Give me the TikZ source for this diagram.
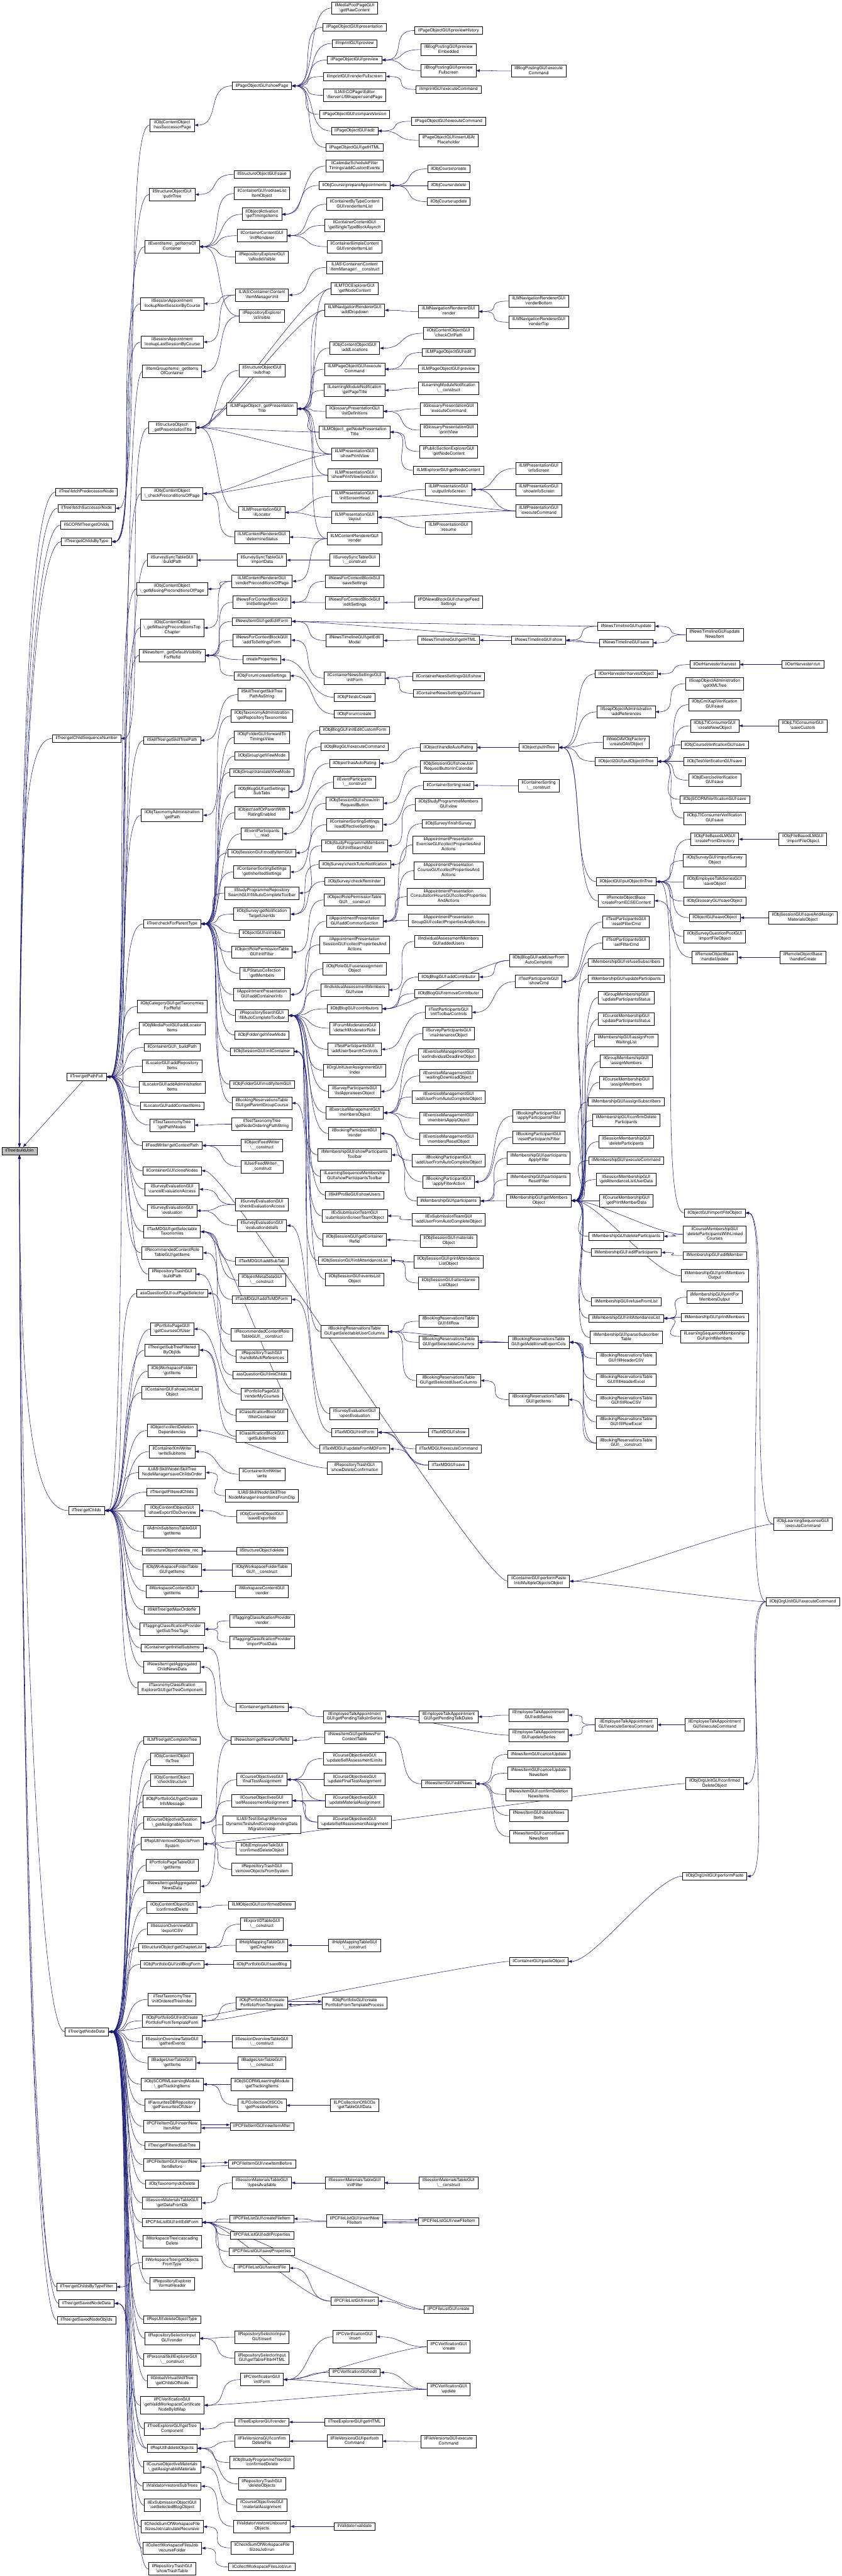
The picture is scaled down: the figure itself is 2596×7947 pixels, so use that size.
\documentclass[tikz,border=0pt]{standalone}
\usepackage{fontspec}
\setmainfont{TeX Gyre Heros}
\usetikzlibrary{arrows.meta}
\definecolor{edgeblue}{HTML}{191970}
\newcommand{\bsl}{\textbackslash}
\pgfdeclarelayer{background}
\pgfsetlayers{background,main}

\begin{document}
\begin{tikzpicture}[x=0.01cm, y=-0.01cm,
  fn/.style={draw=black, fill=white, line width=0.35pt, align=center,
    font=\fontsize{3.75}{4.35}\selectfont, inner xsep=0.105cm, inner ysep=0.0435cm,
    execute at begin node=\strut, execute at end node=\strut},
  rootfn/.style={fn, fill=gray!50},
  tip/.style={draw=edgeblue, line width=0.3pt, -{Triangle[length=0.11cm,width=0.08cm]}},
  call/.style={tip, to path={(\tikztostart.west) .. controls +(-80,0) and +(80,0) .. (\tikztotarget.east)}},
  rootup/.style={tip, to path={(\tikztostart.west) .. controls +(-90,0) and +(0,-900) .. (\tikztotarget.north)}},
  rootdown/.style={tip, to path={(\tikztostart.west) .. controls +(-90,0) and +(0,900) .. (\tikztotarget.south)}}]

\useasboundingbox (0,0) rectangle (2596,7947);

% Radice
\node[rootfn] (buildJoin) at (60,3551) {ilTree\bsl buildJoin};

% Colonna 1
\node[fn] (fetchPred) at (267,1518) {ilTree\bsl fetchPredecessorNode};
\node[fn] (fetchSucc) at (267,1568) {ilTree\bsl fetchSuccessorNode};
\node[fn] (scormChilds) at (267,1620) {ilSCORMTree\bsl getChilds};
\node[fn] (childsByType) at (267,1671) {ilTree\bsl getChildsByType};
\node[fn] (childSeqNr) at (267,2278) {ilTree\bsl getChildSequenceNumber};
\node[fn] (pathFull) at (267,3322) {ilTree\bsl getPathFull};
\node[fn] (getChilds) at (267,4660) {ilTree\bsl getChilds};
\node[fn] (nodeData) at (267,6268) {ilTree\bsl getNodeData};
\node[fn] (childsByTypeFilter) at (267,7055) {ilTree\bsl getChildsByTypeFilter};
\node[fn] (savedNodeData) at (267,7106) {ilTree\bsl getSavedNodeData};
\node[fn] (savedNodeObjIds) at (267,7158) {ilTree\bsl getSavedNodeObjIds};

% Colonna 2
\node[fn] (hasSucc) at (531,386) {ilObjContentObject\\\bsl hasSuccessorPage};
\node[fn] (soPutInTree) at (531,600) {ilStructureObjectGUI\\\bsl putInTree};
\node[fn] (eiItemsOfCont) at (531,761) {ilEventItems\bsl\_getItemsOf\\Container};
\node[fn] (lookupNext) at (531,937) {ilSessionAppointment\\\bsl lookupNextSessionByCourse};
\node[fn] (lookupLast) at (531,1055) {ilSessionAppointment\\\bsl lookupLastSessionByCourse};
\node[fn] (igItemsOfCont) at (531,1146) {ilItemGroupItems\bsl\_getItems\\OfContainer};
\node[fn] (soPresTitle) at (531,1319) {ilStructureObject\bsl\\\_getPresentationTitle};
\node[fn] (checkPrecond) at (531,1523) {ilObjContentObject\\\bsl\_checkPreconditionsOfPage};
\node[fn] (ssBuildPath) at (531,1728) {ilSurveySyncTableGUI\\\bsl buildPath};
\node[fn] (missPrecondPage) at (531,1817) {ilObjContentObject\\\bsl\_getMissingPreconditionsOfPage};
\node[fn] (missPrecondTop) at (531,1937) {ilObjContentObject\\\bsl\_getMissingPreconditionsTop\\Chapter};
\node[fn] (defVisibility) at (531,2022) {ilNewsItem\bsl\_getDefaultVisibility\\ForRefId};
\node[fn] (skillTreePath) at (531,2284) {ilSkillTree\bsl getSkillTreePath};
\node[fn] (taxAdminPath) at (531,2515) {ilObjTaxonomyAdministration\\\bsl getPath};
\node[fn] (checkParentType) at (531,2850) {ilTree\bsl checkForParentType};
\node[fn] (taxForRefId) at (531,3105) {ilObjCategoryGUI\bsl getTaxonomies\\ForRefId};
\node[fn] (mpLocatorItems) at (531,3172) {ilObjMediaPoolGUI\bsl addLocator\\Items};
\node[fn] (contBuildPath) at (531,3231) {ilContainerGUI\bsl\_buildPath};
\node[fn] (locRepItems) at (531,3289) {ilLocatorGUI\bsl addRepository\\Items};
\node[fn] (locAdminItems) at (531,3354) {ilLocatorGUI\bsl addAdministration\\Items};
\node[fn] (locContextItems) at (531,3412) {ilLocatorGUI\bsl addContextItems};
\node[fn] (ttPathNodes) at (531,3471) {ilTestTaxonomyTree\\\bsl getPathNodes};
\node[fn] (feedContextPath) at (531,3534) {ilFeedWriter\bsl getContextPath};
\node[fn] (cloneNodes) at (531,3612) {ilContainerGUI\bsl cloneNodes};
\node[fn] (cancelEvalAccess) at (531,3669) {ilSurveyEvaluationGUI\\\bsl cancelEvaluationAccess};
\node[fn] (evaluation) at (531,3735) {ilSurveyEvaluationGUI\\\bsl evaluation};
\node[fn] (selTaxonomies) at (531,3800) {ilTaxMDGUI\bsl getSelectable\\Taxonomies};
\node[fn] (rcGetItems) at (531,3865) {ilRecommendedContentRole\\TableGUI\bsl getItems};
\node[fn] (trashBuildPath) at (531,3931) {ilRepositoryTrashGUI\\\bsl buildPath};
\node[fn] (outPageSel) at (531,3990) {assQuestionGUI\bsl outPageSelector};
\node[fn] (coursesOfUser) at (531,4100) {ilPortfolioPageGUI\\\bsl getCoursesOfUser};
\node[fn] (subTreeFiltered) at (531,4165) {ilTree\bsl getSubTreeFiltered\\ByObjIds};
\node[fn] (wsGotItems) at (531,4230) {ilObjWorkspaceFolder\\\bsl gotItems};
\node[fn] (linkListObj) at (531,4296) {ilContainerGUI\bsl showLinkList\\Object};
\node[fn] (collectDelDeps) at (531,4413) {ilObject\bsl collectDeletion\\Dependencies};
\node[fn] (writeSubitems) at (531,4478) {ilContainerXmlWriter\\\bsl writeSubitems};
\node[fn] (saveChildsOrder) at (531,4543) {ILIAS\bsl Skill\bsl Node\bsl SkillTree\\NodeManager\bsl saveChildsOrder};
\node[fn] (filteredChilds) at (531,4603) {ilTree\bsl getFilteredChilds};
\node[fn] (exportIdsOverview) at (531,4660) {ilObjContentObjectGUI\\\bsl showExportIDsOverview};
\node[fn] (adminSubItems) at (531,4725) {ilAdminSubItemsTableGUI\\\bsl getItems};
\node[fn] (deleteRec) at (531,4785) {ilStructureObject\bsl delete\_rec};
\node[fn] (wfTableItems) at (531,4843) {ilObjWorkspaceFolderTable\\GUI\bsl getItems};
\node[fn] (wcGetItems) at (531,4909) {ilWorkspaceContentGUI\\\bsl getItems};
\node[fn] (maxOrderNr) at (531,4967) {ilSkillTree\bsl getMaxOrderNr};
\node[fn] (subTreeTags) at (531,5026) {ilTaggingClassificationProvider\\\bsl getSubTreeTags};
\node[fn] (initialSubitems) at (531,5084) {ilContainer\bsl getInitialSubitems};
\node[fn] (aggChildNews) at (531,5143) {ilNewsItem\bsl getAggregated\\ChildNewsData};
\node[fn] (taxTreeComp) at (531,5208) {ilTaxonomyClassification\\ExplorerGUI\bsl getTreeComponent};
\node[fn] (completeTree) at (531,5369) {ilLMTree\bsl getCompleteTree};
\node[fn] (fixTree) at (531,5427) {ilObjContentObject\\\bsl fixTree};
\node[fn] (checkStructure) at (531,5492) {ilObjContentObject\\\bsl checkStructure};
\node[fn] (createInfoMsg) at (531,5558) {ilObjPortfolioGUI\bsl getCreate\\InfoMessage};
\node[fn] (assignableTests) at (531,5623) {ilCourseObjectiveQuestion\\\bsl\_getAssignableTests};
\node[fn] (removeFromSystem) at (531,5688) {ilRepUtil\bsl removeObjectsFrom\\System};
\node[fn] (ppTableItems) at (531,5754) {ilPortfolioPageTableGUI\\\bsl getItems};
\node[fn] (aggNewsData) at (531,5819) {ilNewsItem\bsl getAggregated\\NewsData};
\node[fn] (cocConfirmedDelete) at (531,5884) {ilObjContentObjectGUI\\\bsl confirmedDelete};
\node[fn] (exportCSV) at (531,5950) {ilSessionOverviewGUI\\\bsl exportCSV};
\node[fn] (chapterList) at (531,6008) {ilStructureObject\bsl getChapterList};
\node[fn] (initBlogForm) at (531,6060) {ilObjPortfolioGUI\bsl initBlogForm};
\node[fn] (orderedTreeIdx) at (531,6168) {ilTestTaxonomyTree\\\bsl initOrderedTreeIndex};
\node[fn] (initCreatePft) at (531,6234) {ilObjPortfolioGUI\bsl initCreate\\PortfolioFromTemplateForm};
\node[fn] (gatherEvents) at (531,6299) {ilSessionOverviewTableGUI\\\bsl gatherEvents};
\node[fn] (badgeItems) at (531,6364) {ilBadgeUserTableGUI\\\bsl getItems};
\node[fn] (scormTrackItems) at (531,6430) {ilObjSCORMLearningModule\\\bsl\_getTrackingItems};
\node[fn] (favouritesOfUser) at (531,6495) {ilFavouritesDBRepository\\\bsl getFavouritesOfUser};
\node[fn] (insertItemAfter) at (531,6560) {ilPCFileItemGUI\bsl insertNew\\ItemAfter};
\node[fn] (filteredSubTree) at (531,6619) {ilTree\bsl getFilteredSubTree};
\node[fn] (insertItemBefore) at (531,6678) {ilPCFileItemGUI\bsl insertNew\\ItemBefore};
\node[fn] (taxDoDelete) at (531,6738) {ilObjTaxonomy\bsl doDelete};
\node[fn] (dataFromDb) at (531,6796) {ilSessionMaterialsTableGUI\\\bsl getDataFromDb};
\node[fn] (initEditForm) at (531,6856) {ilPCFileListGUI\bsl initEditForm};
\node[fn] (cascadingDelete) at (531,6915) {ilWorkspaceTree\bsl cascading\\Delete};
\node[fn] (objectsFromType) at (531,6980) {ilWorkspaceTree\bsl getObjects\\FromType};
\node[fn] (formatHeader) at (531,7046) {ilRepositoryExplorer\\\bsl formatHeader};
\node[fn] (deleteObjType) at (531,7156) {ilRepUtil\bsl deleteObjectType};
\node[fn] (rsiRender) at (531,7214) {ilRepositorySelectorInput\\GUI\bsl render};
\node[fn] (pseConstruct) at (531,7280) {ilPersonalSkillExplorerGUI\\\bsl\_\_construct};
\node[fn] (childsOfNode) at (531,7346) {ilGlobalVirtualSkillTree\\\bsl getChildsOfNode};
\node[fn] (validWsCert) at (531,7420) {ilPCVerificationGUI\\\bsl getValidWorkspaceCertificate\\NodeByIdMap};
\node[fn] (treeComponent) at (531,7493) {ilTreeExplorerGUI\bsl getTree\\Component};
\node[fn] (deleteObjects) at (531,7553) {ilRepUtil\bsl deleteObjects};
\node[fn] (assignableMat) at (531,7611) {ilCourseObjectiveMaterials\\\bsl\_getAssignableMaterials};
\node[fn] (restoreSubTrees) at (531,7670) {ilValidator\bsl restoreSubTrees};
\node[fn] (selBlogObject) at (531,7729) {ilExSubmissionObjectGUI\\\bsl setSelectedBlogObject};
\node[fn] (calcRecursive) at (531,7795) {ilCheckSumOfWorkspaceFile\\SizesJob\bsl calculateRecursive};
\node[fn] (recurseFolder) at (531,7861) {ilCollectWorkspaceFilesJob\\\bsl recurseFolder};
\node[fn] (showTrashTable) at (531,7925) {ilRepositoryTrashGUI\\\bsl showTrashTable};

% Colonna 3
\node[fn] (showPage) at (808,265) {ilPageObjectGUI\bsl showPage};
\node[fn] (sogSave) at (808,538) {ilStructureObjectGUI\bsl save};
\node[fn] (redrawList) at (808,597) {ilContainerGUI\bsl redrawList\\ItemObject};
\node[fn] (timingsItems) at (808,661) {ilObjectActivation\\\bsl getTimingsItems};
\node[fn] (initRenderer) at (808,727) {ilContainerContentGUI\\\bsl initRenderer};
\node[fn] (isNodeVisible) at (808,793) {ilRepositoryExplorerGUI\\\bsl isNodeVisible};
\node[fn] (imInit) at (808,910) {ILIAS\bsl Container\bsl Content\\\bsl ItemManager\bsl init};
\node[fn] (reIsVisible) at (808,975) {ilRepositoryExplorer\\\bsl isVisible};
\node[fn] (subchap) at (808,1143) {ilStructureObjectGUI\\\bsl subchap};
\node[fn] (lmpoPresTitle) at (808,1261) {ilLMPageObject\bsl\_getPresentation\\Title};
\node[fn] (ilLocator) at (808,1581) {ilLMPresentationGUI\\\bsl ilLocator};
\node[fn] (determineStatus) at (808,1657) {ilLMContentRendererGUI\\\bsl determineStatus};
\node[fn] (ssImportData) at (808,1728) {ilSurveySyncTableGUI\\\bsl importData};
\node[fn] (renderPrecond) at (808,1793) {ilLMContentRendererGUI\\\bsl renderPreconditionsOfPage};
\node[fn] (nfcInitSettings) at (808,1858) {ilNewsForContextBlockGUI\\\bsl initSettingsForm};
\node[fn] (getEditForm) at (808,1917) {ilNewsItemGUI\bsl getEditForm};
\node[fn] (addToSettings) at (808,1975) {ilNewsForContextBlockGUI\\\bsl addToSettingsForm};
\node[fn] (createProps) at (808,2035) {createProperties};
\node[fn] (forumCreateSettings) at (808,2085) {ilObjForum\bsl createSettings};
\node[fn] (skillPathString) at (808,2143) {ilSkillTree\bsl getSkillTree\\PathAsString};
\node[fn] (repoTaxonomies) at (808,2209) {ilObjTaxonomyAdministration\\\bsl getRepositoryTaxonomies};
\node[fn] (forwardTimings) at (808,2274) {ilObjFolderGUI\bsl forwardTo\\TimingsView};
\node[fn] (grpViewMode) at (808,2332) {ilObjGroup\bsl getViewMode};
\node[fn] (grpTranslateVM) at (808,2383) {ilObjGroup\bsl translateViewMode};
\node[fn] (blogSubTabs) at (808,2442) {ilObjBlogGUI\bsl setSettings\\SubTabs};
\node[fn] (ratingEnabled) at (808,2507) {ilObject\bsl selfOrParentWith\\RatingEnabled};
\node[fn] (epRead) at (808,2572) {ilEventParticipants\\\bsl\_\_read};
\node[fn] (sessModifyItem) at (808,2631) {ilObjSessionGUI\bsl modifyItemGUI};
\node[fn] (inheritedSettings) at (808,2690) {ilContainerSortingSettings\\\bsl getInheritedSettings};
\node[fn] (spAutoComplete) at (808,2755) {ilStudyProgrammeRepository\\SearchGUI\bsl fillAutoCompleteToolbar};
\node[fn] (notifTargets) at (808,2820) {ilObjSurvey\bsl getNotification\\TargetUserIds};
\node[fn] (objIsVisible) at (808,2880) {ilObjectGUI\bsl isVisible};
\node[fn] (rptInitFilter) at (808,2937) {ilObjectRolePermissionTable\\GUI\bsl initFilter};
\node[fn] (lpGetMembers) at (808,3003) {ilLPStatusCollection\\\bsl getMembers};
\node[fn] (addContainerInfo) at (808,3068) {ilAppointmentPresentation\\GUI\bsl addContainerInfo};
\node[fn] (repoAutoComplete) at (808,3133) {ilRepositorySearchGUI\\\bsl fillAutoCompleteToolbar};
\node[fn] (folderViewMode) at (808,3193) {ilObjFolder\bsl getViewMode};
\node[fn] (sessInitContainer) at (808,3244) {ilObjSessionGUI\bsl initContainer};
\node[fn] (folderModifyItem) at (808,3345) {ilObjFolderGUI\bsl modifyItemGUI};
\node[fn] (parentGroupCourse) at (808,3403) {ilBookingReservationsTable\\GUI\bsl getParentGroupCourse};
\node[fn] (nodeOrderingPath) at (808,3468) {ilTestTaxonomyTree\\\bsl getNodeOrderingPathString};
\node[fn] (objFeedConstruct) at (808,3534) {ilObjectFeedWriter\\\bsl\_\_construct};
\node[fn] (userFeedConstruct) at (808,3599) {ilUserFeedWriter\bsl\_\\\_construct};
\node[fn] (checkEvalAccess) at (808,3716) {ilSurveyEvaluationGUI\\\bsl checkEvaluationAccess};
\node[fn] (evalDetails) at (808,3781) {ilSurveyEvaluationGUI\\\bsl evaluationdetails};
\node[fn] (taxAddSubTab) at (808,3891) {ilTaxMDGUI\bsl addSubTab};
\node[fn] (mdConstruct) at (808,3949) {ilObjectMetaDataGUI\\\bsl\_\_construct};
\node[fn] (addToMDForm) at (808,4009) {ilTaxMDGUI\bsl addToMDForm};
\node[fn] (rcConstruct) at (808,4117) {ilRecommendedContentRole\\TableGUI\bsl\_\_construct};
\node[fn] (multiRefs) at (808,4184) {ilRepositoryTrashGUI\\\bsl handleMultiReferences};
\node[fn] (linkChilds) at (808,4242) {assQuestionGUI\bsl linkChilds};
\node[fn] (renderMyCourses) at (808,4301) {ilPortfolioPageGUI\\\bsl renderMyCourses};
\node[fn] (filterContainer) at (808,4366) {ilClassificationBlockGUI\\\bsl filterContainer};
\node[fn] (subItemIds) at (808,4431) {ilClassificationBlockGUI\\\bsl getSubItemIds};
\node[fn] (xmlWrite) at (808,4548) {ilContainerXmlWriter\\\bsl write};
\node[fn] (itemsFromClip) at (808,4614) {ILIAS\bsl Skill\bsl Node\bsl SkillTree\\NodeManager\bsl insertItemsFromClip};
\node[fn] (saveExportIds) at (808,4679) {ilObjContentObjectGUI\\\bsl saveExportIds};
\node[fn] (soDelete) at (808,4785) {ilStructureObject\bsl delete};
\node[fn] (wfTableConstruct) at (808,4843) {ilObjWorkspaceFolderTable\\GUI\bsl\_\_construct};
\node[fn] (wcRender) at (808,4909) {ilWorkspaceContentGUI\\\bsl render};
\node[fn] (tcRender) at (808,5000) {ilTaggingClassificationProvider\\\bsl render};
\node[fn] (tcImportPost) at (808,5066) {ilTaggingClassificationProvider\\\bsl importPostData};
\node[fn] (contSubItems) at (808,5267) {ilContainer\bsl getSubItems};
\node[fn] (newsForRefId) at (808,5369) {ilNewsItem\bsl getNewsForRefId};
\node[fn] (finalTestAssign) at (808,5490) {ilCourseObjectivesGUI\\\bsl finalTestAssignment};
\node[fn] (selfAssessAssign) at (808,5555) {ilCourseObjectivesGUI\\\bsl selfAssessmentAssignment};
\node[fn] (migrationStep) at (808,5629) {ILIAS\bsl Test\bsl Setup\bsl ilRemove\\DynamicTestsAndCorrespondingData\\Migration\bsl step};
\node[fn] (etConfirmedDelete) at (808,5702) {ilObjEmployeeTalkGUI\\\bsl confirmedDeleteObject};
\node[fn] (trashRemoveFromSys) at (808,5767) {ilRepositoryTrashGUI\\\bsl removeObjectsFromSystem};
\node[fn] (lmoConfirmedDelete) at (808,5877) {ilLMObjectGUI\bsl confirmedDelete};
\node[fn] (exportIdConstruct) at (808,5936) {ilExportIDTableGUI\\\bsl\_\_construct};
\node[fn] (helpGetChapters) at (808,6001) {ilHelpMappingTableGUI\\\bsl getChapters};
\node[fn] (saveBlog) at (808,6060) {ilObjPortfolioGUI\bsl saveBlog};
\node[fn] (createPft) at (808,6179) {ilObjPortfolioGUI\bsl create\\PortfolioFromTemplate};
\node[fn] (sotConstruct) at (808,6299) {ilSessionOverviewTableGUI\\\bsl\_\_construct};
\node[fn] (badgeConstruct) at (808,6364) {ilBadgeUserTableGUI\\\bsl\_\_construct};
\node[fn] (scormGetTrack) at (808,6430) {ilObjSCORMLearningModule\\\bsl getTrackingItems};
\node[fn] (possibleItems) at (808,6495) {ilLPCollectionOfSCOs\\\bsl getPossibleItems};
\node[fn] (newItemAfter) at (808,6560) {ilPCFileItemGUI\bsl newItemAfter};
\node[fn] (newItemBefore) at (808,6676) {ilPCFileItemGUI\bsl newItemBefore};
\node[fn] (typesAvailable) at (808,6734) {ilSessionMaterialsTableGUI\\\bsl typesAvailable};
\node[fn] (createFileItem) at (808,6845) {ilPCFileListGUI\bsl createFileItem};
\node[fn] (editProperties) at (808,6896) {ilPCFileListGUI\bsl editProperties};
\node[fn] (saveProperties) at (808,6946) {ilPCFileListGUI\bsl saveProperties};
\node[fn] (selectFile) at (808,6997) {ilPCFileListGUI\bsl selectFile};
\node[fn] (rsiInsert) at (808,7210) {ilRepositorySelectorInput\\GUI\bsl insert};
\node[fn] (rsiFilterHTML) at (808,7275) {ilRepositorySelectorInput\\GUI\bsl getTableFilterHTML};
\node[fn] (pcvInitForm) at (808,7341) {ilPCVerificationGUI\\\bsl initForm};
\node[fn] (treeExpRender) at (808,7472) {ilTreeExplorerGUI\bsl render};
\node[fn] (confirmDelFile) at (808,7531) {ilFileVersionsGUI\bsl confirm\\DeleteFile};
\node[fn] (sptConfirmedDelete) at (808,7597) {ilObjStudyProgrammeTreeGUI\\\bsl confirmedDelete};
\node[fn] (trashDeleteObjs) at (808,7663) {ilRepositoryTrashGUI\\\bsl deleteObjects};
\node[fn] (materialAssign) at (808,7728) {ilCourseObjectivesGUI\\\bsl materialAssignment};
\node[fn] (restoreUnbound) at (808,7794) {ilValidator\bsl restoreUnbound\\Objects};
\node[fn] (checkSumRun) at (808,7860) {ilCheckSumOfWorkspaceFile\\SizesJob\bsl run};
\node[fn] (collectRun) at (808,7919) {ilCollectWorkspaceFilesJob\bsl run};

% Colonna 4
\node[fn] (rawContent) at (1094,25) {ilMediaPoolPageGUI\\\bsl getRawContent};
\node[fn] (pogPresentation) at (1094,84) {ilPageObjectGUI\bsl presentation};
\node[fn] (imprintPreview) at (1094,134) {ilImprintGUI\bsl preview};
\node[fn] (pogPreview) at (1094,185) {ilPageObjectGUI\bsl preview};
\node[fn] (imprintFullscreen) at (1094,236) {ilImprintGUI\bsl renderFullscreen};
\node[fn] (sendPage) at (1094,294) {ILIAS\bsl COPage\bsl Editor\\\bsl Server\bsl UIWrapper\bsl sendPage};
\node[fn] (compareVersion) at (1094,353) {ilPageObjectGUI\bsl compareVersion};
\node[fn] (pogEdit) at (1094,404) {ilPageObjectGUI\bsl edit};
\node[fn] (pogGetHTML) at (1094,455) {ilPageObjectGUI\bsl getHTML};
\node[fn] (addCustomEvents) at (1094,512) {ilCalendarScheduleFilter\\Timings\bsl addCustomEvents};
\node[fn] (prepareAppts) at (1094,572) {ilObjCourse\bsl prepareAppointments};
\node[fn] (btRenderList) at (1094,630) {ilContainerByTypeContent\\GUI\bsl renderItemList};
\node[fn] (singleTypeBlock) at (1094,695) {ilContainerContentGUI\\\bsl getSingleTypeBlockAsynch};
\node[fn] (scRenderList) at (1094,761) {ilContainerSimpleContent\\GUI\bsl renderItemList};
\node[fn] (imConstruct) at (1094,825) {ILIAS\bsl Container\bsl Content\\\bsl ItemManager\bsl\_\_construct};
\node[fn] (tocNodeContent) at (1094,890) {ilLMTOCExplorerGUI\\\bsl getNodeContent};
\node[fn] (addDropdown) at (1094,957) {ilLMNavigationRendererGUI\\\bsl addDropdown};
\node[fn] (addLocations) at (1094,1074) {ilObjContentObjectGUI\\\bsl addLocations};
\node[fn] (lmpogExecute) at (1094,1139) {ilLMPageObjectGUI\bsl execute\\Command};
\node[fn] (getPageTitle) at (1094,1204) {ilLearningModuleNotification\\\bsl getPageTitle};
\node[fn] (listDefinitions) at (1094,1269) {ilGlossaryPresentationGUI\\\bsl listDefinitions};
\node[fn] (nodePresTitle) at (1094,1333) {ilLMObject\bsl\_getNodePresentation\\Title};
\node[fn] (showPrintView) at (1094,1401) {ilLMPresentationGUI\\\bsl showPrintView};
\node[fn] (printViewSel) at (1094,1466) {ilLMPresentationGUI\\\bsl showPrintViewSelection};
\node[fn] (initScreenHead) at (1094,1531) {ilLMPresentationGUI\\\bsl initScreenHead};
\node[fn] (lmpLayout) at (1094,1596) {ilLMPresentationGUI\\\bsl layout};
\node[fn] (lmcrRender) at (1094,1662) {ilLMContentRendererGUI\\\bsl render};
\node[fn] (ssConstruct) at (1094,1728) {ilSurveySyncTableGUI\\\bsl\_\_construct};
\node[fn] (nfcSaveSettings) at (1094,1793) {ilNewsForContextBlockGUI\\\bsl saveSettings};
\node[fn] (nfcEditSettings) at (1094,1859) {ilNewsForContextBlockGUI\\\bsl editSettings};
\node[fn] (editModal) at (1094,1976) {ilNewsTimelineGUI\bsl getEdit\\Modal};
\node[fn] (cnsInitForm) at (1094,2092) {ilContainerNewsSettingsGUI\\\bsl initForm};
\node[fn] (fileDoCreate) at (1094,2151) {ilObjFile\bsl doCreate};
\node[fn] (forumCreate) at (1094,2203) {ilObjForum\bsl create};
\node[fn] (blogCustomForm) at (1094,2253) {ilObjBlogGUI\bsl initEditCustomForm};
\node[fn] (blogExecute) at (1094,2304) {ilObjBlogGUI\bsl executeCommand};
\node[fn] (hasAutoRating) at (1094,2355) {ilObject\bsl hasAutoRating};
\node[fn] (epConstruct) at (1094,2413) {ilEventParticipants\\\bsl\_\_construct};
\node[fn] (joinRequestBtn) at (1094,2478) {ilObjSessionGUI\bsl showJoin\\RequestButton};
\node[fn] (loadEffSettings) at (1094,2544) {ilContainerSortingSettings\\\bsl loadEffectiveSettings};
\node[fn] (spmInitSearch) at (1094,2609) {ilObjStudyProgrammeMembers\\GUI\bsl initSearchGUI};
\node[fn] (tutorNotif) at (1094,2667) {ilObjSurvey\bsl checkTutorNotification};
\node[fn] (checkReminder) at (1094,2719) {ilObjSurvey\bsl checkReminder};
\node[fn] (rptConstruct) at (1094,2776) {ilObjectRolePermissionTable\\GUI\bsl\_\_construct};
\node[fn] (addCommonSection) at (1094,2842) {ilAppointmentPresentation\\GUI\bsl addCommonSection};
\node[fn] (apSessionProps) at (1094,2915) {ilAppointmentPresentation\\SessionGUI\bsl collectPropertiesAnd\\Actions};
\node[fn] (userAssignObj) at (1094,2989) {ilObjRoleGUI\bsl userassignment\\Object};
\node[fn] (iamView) at (1094,3054) {ilIndividualAssessmentMembers\\GUI\bsl view};
\node[fn] (blogContributors) at (1094,3112) {ilObjBlogGUI\bsl contributors};
\node[fn] (detachModerator) at (1094,3172) {ilForumModeratorsGUI\\\bsl detachModeratorRole};
\node[fn] (userSearchCtrls) at (1094,3237) {ilTestParticipantsGUI\\\bsl addUserSearchControls};
\node[fn] (ouIndex) at (1094,3302) {ilOrgUnitUserAssignmentGUI\\\bsl index};
\node[fn] (appraiseesObj) at (1094,3367) {ilSurveyParticipantsGUI\\\bsl listAppraiseesObject};
\node[fn] (membersObj) at (1094,3433) {ilExerciseManagementGUI\\\bsl membersObject};
\node[fn] (bpRender) at (1094,3497) {ilBookingParticipantGUI\\\bsl render};
\node[fn] (partToolbar) at (1094,3563) {ilMembershipGUI\bsl showParticipants\\Toolbar};
\node[fn] (lsPartToolbar) at (1094,3629) {ilLearningSequenceMembership\\GUI\bsl showParticipantsToolbar};
\node[fn] (showUsers) at (1094,3687) {ilSkillProfileGUI\bsl showUsers};
\node[fn] (teamScreen) at (1094,3751) {ilExSubmissionTeamGUI\\\bsl submissionScreenTeamObject};
\node[fn] (sessContRefId) at (1094,3825) {ilObjSessionGUI\bsl getContainer\\RefId};
\node[fn] (sessInitAttend) at (1094,3889) {ilObjSessionGUI\bsl initAttendanceList};
\node[fn] (sessEventsList) at (1094,3947) {ilObjSessionGUI\bsl eventsList\\Object};
\node[fn] (selUserCols) at (1094,4108) {ilBookingReservationsTable\\GUI\bsl getSelectableUserColumns};
\node[fn] (openEvaluation) at (1094,4361) {ilSurveyEvaluationGUI\\\bsl openEvaluation};
\node[fn] (taxInitForm) at (1094,4419) {ilTaxMDGUI\bsl initForm};
\node[fn] (updateFromMD) at (1094,4470) {ilTaxMDGUI\bsl updateFromMDForm};
\node[fn] (showDelConfirm) at (1094,4529) {ilRepositoryTrashGUI\\\bsl showDeleteConfirmation};
\node[fn] (pendingInSeries) at (1094,5296) {ilEmployeeTalkAppointment\\GUI\bsl getPendingTalksInSeries};
\node[fn] (newsForContext) at (1094,5359) {ilNewsItemGUI\bsl getNewsFor\\ContextTable};
\node[fn] (updSelfLimits) at (1094,5425) {ilCourseObjectivesGUI\\\bsl updateSelfAssessmentLimits};
\node[fn] (updFinalTest) at (1094,5490) {ilCourseObjectivesGUI\\\bsl updateFinalTestAssignment};
\node[fn] (updMaterial) at (1094,5555) {ilCourseObjectivesGUI\\\bsl updateMaterialAssignment};
\node[fn] (updSelfAssess) at (1094,5621) {ilCourseObjectivesGUI\\\bsl updateSelfAssessmentAssignment};
\node[fn] (helpConstruct) at (1094,6001) {ilHelpMappingTableGUI\\\bsl\_\_construct};
\node[fn] (createPftProcess) at (1094,6179) {ilObjPortfolioGUI\bsl create\\PortfolioFromTemplateProcess};
\node[fn] (tableGUIData) at (1094,6495) {ilLPCollectionOfSCOs\\\bsl getTableGUIData};
\node[fn] (smInitFilter) at (1094,6734) {ilSessionMaterialsTableGUI\\\bsl initFilter};
\node[fn] (insertFileItem) at (1094,6852) {ilPCFileListGUI\bsl insertNew\\FileItem};
\node[fn] (pcflInsert) at (1094,7099) {ilPCFileListGUI\bsl insert};
\node[fn] (pcvInsert) at (1094,7209) {ilPCVerificationGUI\\\bsl insert};
\node[fn] (pcvEdit) at (1094,7319) {ilPCVerificationGUI\bsl edit};
\node[fn] (treeExpHTML) at (1094,7472) {ilTreeExplorerGUI\bsl getHTML};
\node[fn] (performCommand) at (1094,7531) {ilFileVersionsGUI\bsl perform\\Command};
\node[fn] (validate) at (1094,7794) {ilValidator\bsl validate};

% Colonna 5
\node[fn] (previewHistory) at (1384,94) {ilPageObjectGUI\bsl previewHistory};
\node[fn] (previewEmbedded) at (1384,153) {ilBlogPostingGUI\bsl preview\\Embedded};
\node[fn] (previewFullscreen) at (1384,218) {ilBlogPostingGUI\bsl preview\\Fullscreen};
\node[fn] (imprintExecute) at (1384,276) {ilImprintGUI\bsl executeCommand};
\node[fn] (pogExecute) at (1384,374) {ilPageObjectGUI\bsl executeCommand};
\node[fn] (insertJS) at (1384,433) {ilPageObjectGUI\bsl insertJSAt\\Placeholder};
\node[fn] (courseCreate) at (1384,521) {ilObjCourse\bsl create};
\node[fn] (courseDelete) at (1384,572) {ilObjCourse\bsl delete};
\node[fn] (courseUpdate) at (1384,622) {ilObjCourse\bsl update};
\node[fn] (navRender) at (1384,961) {ilLMNavigationRendererGUI\\\bsl render};
\node[fn] (checkCtrlPath) at (1384,1028) {ilObjContentObjectGUI\\\bsl checkCtrlPath};
\node[fn] (lmpogEdit) at (1384,1087) {ilLMPageObjectGUI\bsl edit};
\node[fn] (lmpogPreview) at (1384,1138) {ilLMPageObjectGUI\bsl preview};
\node[fn] (lmnConstruct) at (1384,1197) {ilLearningModuleNotification\\\bsl\_\_construct};
\node[fn] (glossExecute) at (1384,1261) {ilGlossaryPresentationGUI\\\bsl executeCommand};
\node[fn] (glossPrintView) at (1384,1327) {ilGlossaryPresentationGUI\\\bsl printView};
\node[fn] (pubNodeContent) at (1384,1393) {ilPublicSectionExplorerGUI\\\bsl getNodeContent};
\node[fn] (lmeNodeContent) at (1384,1451) {ilLMExplorerGUI\bsl getNodeContent};
\node[fn] (outputInfoScreen) at (1384,1510) {ilLMPresentationGUI\\\bsl outputInfoScreen};
\node[fn] (lmpResume) at (1384,1628) {ilLMPresentationGUI\\\bsl resume};
\node[fn] (changeFeed) at (1384,1858) {ilPDNewsBlockGUI\bsl changeFeed\\Settings};
\node[fn] (ntGetHTML) at (1384,1975) {ilNewsTimelineGUI\bsl getHTML};
\node[fn] (cnsShow) at (1384,2087) {ilContainerNewsSettingsGUI\bsl show};
\node[fn] (cnsSave) at (1384,2139) {ilContainerNewsSettingsGUI\bsl save};
\node[fn] (handleAutoRating) at (1384,2306) {ilObject\bsl handleAutoRating};
\node[fn] (joinBtnCalendar) at (1384,2365) {ilObjSessionGUI\bsl showJoin\\RequestButtonInCalendar};
\node[fn] (sortingRead) at (1384,2423) {ilContainerSorting\bsl read};
\node[fn] (spmView) at (1384,2482) {ilObjStudyProgrammeMembers\\GUI\bsl view};
\node[fn] (finishSurvey) at (1384,2541) {ilObjSurvey\bsl finishSurvey};
\node[fn] (apExerciseProps) at (1384,2606) {ilAppointmentPresentation\\ExerciseGUI\bsl collectPropertiesAnd\\Actions};
\node[fn] (apCourseProps) at (1384,2686) {ilAppointmentPresentation\\CourseGUI\bsl collectPropertiesAnd\\Actions};
\node[fn] (apConsultProps) at (1384,2766) {ilAppointmentPresentation\\ConsultationHoursGUI\bsl collectProperties\\AndActions};
\node[fn] (apGroupProps) at (1384,2839) {ilAppointmentPresentation\\GroupGUI\bsl collectPropertiesAndActions};
\node[fn] (iamAddedUsers) at (1384,2904) {ilIndividualAssessmentMembers\\GUI\bsl addedUsers};
\node[fn] (addContributor) at (1384,3014) {ilObjBlogGUI\bsl addContributor};
\node[fn] (removeContributor) at (1384,3065) {ilObjBlogGUI\bsl removeContributor};
\node[fn] (toolbarControls) at (1384,3123) {ilTestParticipantsGUI\\\bsl initToolbarControls};
\node[fn] (maintenanceObj) at (1384,3188) {ilSurveyParticipantsGUI\\\bsl maintenanceObject};
\node[fn] (deadlineObj) at (1384,3254) {ilExerciseManagementGUI\\\bsl setIndividualDeadlineObject};
\node[fn] (waitingDownload) at (1384,3319) {ilExerciseManagementGUI\\\bsl waitingDownloadObject};
\node[fn] (exAddUser) at (1384,3384) {ilExerciseManagementGUI\\\bsl addUserFromAutoCompleteObject};
\node[fn] (membersApply) at (1384,3450) {ilExerciseManagementGUI\\\bsl membersApplyObject};
\node[fn] (membersReset) at (1384,3515) {ilExerciseManagementGUI\\\bsl membersResetObject};
\node[fn] (bpAddUser) at (1384,3580) {ilBookingParticipantGUI\\\bsl addUserFromAutoCompleteObject};
\node[fn] (applyFilterAction) at (1384,3646) {ilBookingParticipantGUI\\\bsl applyFilterAction};
\node[fn] (mgParticipants) at (1384,3705) {ilMembershipGUI\bsl participants};
\node[fn] (teamAddUser) at (1384,3763) {ilExSubmissionTeamGUI\\\bsl addUserFromAutoCompleteObject};
\node[fn] (materialsObj) at (1384,3828) {ilObjSessionGUI\bsl materials\\Object};
\node[fn] (printAttendObj) at (1384,3893) {ilObjSessionGUI\bsl printAttendance\\ListObject};
\node[fn] (attendListObj) at (1384,3958) {ilObjSessionGUI\bsl attendance\\ListObject};
\node[fn] (brFillRow) at (1384,4076) {ilBookingReservationsTable\\GUI\bsl fillRow};
\node[fn] (selColumns) at (1384,4141) {ilBookingReservationsTable\\GUI\bsl getSelectableColumns};
\node[fn] (selectedUserCols) at (1384,4259) {ilBookingReservationsTable\\GUI\bsl getSelectedUserColumns};
\node[fn] (taxShow) at (1384,4419) {ilTaxMDGUI\bsl show};
\node[fn] (taxExecute) at (1384,4470) {ilTaxMDGUI\bsl executeCommand};
\node[fn] (taxSave) at (1384,4520) {ilTaxMDGUI\bsl save};
\node[fn] (pendingDates) at (1384,5296) {ilEmployeeTalkAppointment\\GUI\bsl getPendingTalkDates};
\node[fn] (editNews) at (1384,5503) {ilNewsItemGUI\bsl editNews};
\node[fn] (smConstruct) at (1384,6734) {ilSessionMaterialsTableGUI\\\bsl\_\_construct};
\node[fn] (newFileItem) at (1384,6853) {ilPCFileListGUI\bsl newFileItem};
\node[fn] (pcflCreate) at (1384,7125) {ilPCFileListGUI\bsl create};
\node[fn] (pcvCreate) at (1384,7240) {ilPCVerificationGUI\\\bsl create};
\node[fn] (pcvUpdate) at (1384,7371) {ilPCVerificationGUI\\\bsl update};
\node[fn] (fvExecute) at (1384,7532) {ilFileVersionsGUI\bsl execute\\Command};

% Colonna 6
\node[fn] (bpExecute) at (1662,219) {ilBlogPostingGUI\bsl execute\\Command};
\node[fn] (renderBottom) at (1662,929) {ilLMNavigationRendererGUI\\\bsl renderBottom};
\node[fn] (renderTop) at (1662,994) {ilLMNavigationRendererGUI\\\bsl renderTop};
\node[fn] (infoScreen) at (1662,1445) {ilLMPresentationGUI\\\bsl infoScreen};
\node[fn] (showInfoScreen) at (1662,1510) {ilLMPresentationGUI\\\bsl showInfoScreen};
\node[fn] (lmpExecute) at (1662,1576) {ilLMPresentationGUI\\\bsl executeCommand};
\node[fn] (ntShow) at (1662,1975) {ilNewsTimelineGUI\bsl show};
\node[fn] (putInTree) at (1662,2306) {ilObject\bsl putInTree};
\node[fn] (sortingConstruct) at (1662,2424) {ilContainerSorting\\\bsl\_\_construct};
\node[fn] (addUserFromAC) at (1662,2963) {ilObjBlogGUI\bsl addUserFrom\\AutoComplete};
\node[fn] (showCmd) at (1662,3028) {ilTestParticipantsGUI\\\bsl showCmd};
\node[fn] (applyPartFilter) at (1662,3443) {ilBookingParticipantGUI\\\bsl applyParticipantsFilter};
\node[fn] (resetPartFilter) at (1662,3508) {ilBookingParticipantGUI\\\bsl resetParticipantsFilter};
\node[fn] (partApplyFilter) at (1662,3573) {ilMembershipGUI\bsl participants\\ApplyFilter};
\node[fn] (partResetFilter) at (1662,3639) {ilMembershipGUI\bsl participants\\ResetFilter};
\node[fn] (getMembersObj) at (1662,3704) {ilMembershipGUI\bsl getMembers\\Object};
\node[fn] (addExportCols) at (1662,4141) {ilBookingReservationsTable\\GUI\bsl getAdditionalExportCols};
\node[fn] (brGetItems) at (1662,4318) {ilBookingReservationsTable\\GUI\bsl getItems};
\node[fn] (pasteMultiple) at (1662,4878) {ilContainerGUI\bsl performPaste\\IntoMultipleObjectsObject};
\node[fn] (editSeries) at (1662,5291) {ilEmployeeTalkAppointment\\GUI\bsl editSeries};
\node[fn] (updateSeries) at (1662,5353) {ilEmployeeTalkAppointment\\GUI\bsl updateSeries};
\node[fn] (cancelUpdate) at (1662,5412) {ilNewsItemGUI\bsl cancelUpdate};
\node[fn] (cancelUpdateNews) at (1662,5470) {ilNewsItemGUI\bsl cancelUpdate\\NewsItem};
\node[fn] (confirmDelNews) at (1662,5536) {ilNewsItemGUI\bsl confirmDeletion\\NewsItems};
\node[fn] (deleteNews) at (1662,5601) {ilNewsItemGUI\bsl deleteNews\\Items};
\node[fn] (cancelSaveNews) at (1662,5666) {ilNewsItemGUI\bsl cancelSave\\NewsItem};
\node[fn] (pasteObject) at (1662,6051) {ilContainerGUI\bsl pasteObject};

% Colonna 7
\node[fn] (ntUpdate) at (1932,1932) {ilNewsTimelineGUI\bsl update};
\node[fn] (ntSave) at (1932,1983) {ilNewsTimelineGUI\bsl save};
\node[fn] (harvestObject) at (1932,2079) {ilOerHarvester\bsl harvestObject};
\node[fn] (addReferences) at (1932,2196) {ilSoapObjectAdministration\\\bsl addReferences};
\node[fn] (davObject) at (1932,2290) {ilWebDAVObjFactory\\\bsl createDAVObject};
\node[fn] (o2PutInTree) at (1932,2349) {ilObject2GUI\bsl putObjectInTree};
\node[fn] (ogPutInTree) at (1932,2720) {ilObjectGUI\bsl putObjectInTree};
\node[fn] (ecsContent) at (1932,2779) {ilRemoteObjectBase\\\bsl createFromECSEContent};
\node[fn] (resetFilterCmd) at (1932,2844) {ilTestParticipantsGUI\\\bsl resetFilterCmd};
\node[fn] (setFilterCmd) at (1932,2909) {ilTestParticipantsGUI\\\bsl setFilterCmd};
\node[fn] (refuseSubs) at (1932,2969) {ilMembershipGUI\bsl refuseSubscribers};
\node[fn] (updateParts) at (1932,3020) {ilMembershipGUI\bsl updateParticipants};
\node[fn] (grpUpdStatus) at (1932,3077) {ilGroupMembershipGUI\\\bsl updateParticipantsStatus};
\node[fn] (crsUpdStatus) at (1932,3144) {ilCourseMembershipGUI\\\bsl updateParticipantsStatus};
\node[fn] (assignWaiting) at (1932,3209) {ilMembershipGUI\bsl assignFrom\\WaitingList};
\node[fn] (grpAssign) at (1932,3274) {ilGroupMembershipGUI\\\bsl assignMembers};
\node[fn] (crsAssign) at (1932,3339) {ilCourseMembershipGUI\\\bsl assignMembers};
\node[fn] (assignSubs) at (1932,3399) {ilMembershipGUI\bsl assignSubscribers};
\node[fn] (confirmDelParts) at (1932,3456) {ilMembershipGUI\bsl confirmDelete\\Participants};
\node[fn] (sessDelParts) at (1932,3522) {ilSessionMembershipGUI\\\bsl deleteParticipants};
\node[fn] (mgExecute) at (1932,3580) {ilMembershipGUI\bsl executeCommand};
\node[fn] (attendUserData) at (1932,3639) {ilSessionMembershipGUI\\\bsl getAttendanceListUserData};
\node[fn] (printMemberData) at (1932,3704) {ilCourseMembershipGUI\\\bsl getPrintMemberData};
\node[fn] (mgDelParts) at (1932,3814) {ilMembershipGUI\bsl deleteParticipants};
\node[fn] (mgEditParts) at (1932,3864) {ilMembershipGUI\bsl editParticipants};
\node[fn] (refuseFromList) at (1932,4016) {ilMembershipGUI\bsl refuseFromList};
\node[fn] (mgInitAttend) at (1932,4067) {ilMembershipGUI\bsl initAttendanceList};
\node[fn] (parseSubsTable) at (1932,4126) {ilMembershipGUI\bsl parseSubscriber\\Table};
\node[fn] (fillHeaderCSV) at (1932,4191) {ilBookingReservationsTable\\GUI\bsl fillHeaderCSV};
\node[fn] (fillHeaderExcel) at (1932,4257) {ilBookingReservationsTable\\GUI\bsl fillHeaderExcel};
\node[fn] (fillRowCSV) at (1932,4322) {ilBookingReservationsTable\\GUI\bsl fillRowCSV};
\node[fn] (fillRowExcel) at (1932,4387) {ilBookingReservationsTable\\GUI\bsl fillRowExcel};
\node[fn] (brConstruct) at (1932,4452) {ilBookingReservationsTable\\GUI\bsl\_\_construct};
\node[fn] (seriesCommand) at (1932,5321) {ilEmployeeTalkAppointment\\GUI\bsl executeSeriesCommand};

% Colonna 8
\node[fn] (updateNewsItem) at (2205,1958) {ilNewsTimelineGUI\bsl update\\NewsItem};
\node[fn] (harvest) at (2205,2050) {ilOerHarvester\bsl harvest};
\node[fn] (xmlTree) at (2205,2109) {ilSoapObjectAdministration\\\bsl getXMLTree};
\node[fn] (cmiSave) at (2205,2174) {ilObjCmiXapiVerification\\GUI\bsl save};
\node[fn] (ltiCreateNew) at (2205,2239) {ilObjLTIConsumerGUI\\\bsl createNewObject};
\node[fn] (crsVerSave) at (2205,2298) {ilObjCourseVerificationGUI\bsl save};
\node[fn] (tstVerSave) at (2205,2349) {ilObjTestVerificationGUI\bsl save};
\node[fn] (excVerSave) at (2205,2407) {ilObjExerciseVerification\\GUI\bsl save};
\node[fn] (scormVerSave) at (2205,2466) {ilObjSCORMVerificationGUI\bsl save};
\node[fn] (ltiVerSave) at (2205,2524) {ilObjLTIConsumerVerification\\GUI\bsl save};
\node[fn] (fromDirectory) at (2205,2589) {ilObjFileBasedLMGUI\\\bsl createFromDirectory};
\node[fn] (importSurvey) at (2205,2655) {ilObjSurveyGUI\bsl importSurvey\\Object};
\node[fn] (etsSaveObject) at (2205,2721) {ilObjEmployeeTalkSeriesGUI\\\bsl saveObject};
\node[fn] (glossSaveObject) at (2205,2780) {ilObjGlossaryGUI\bsl saveObject};
\node[fn] (ogSaveObject) at (2205,2831) {ilObjectGUI\bsl saveObject};
\node[fn] (sqpImport) at (2205,2889) {ilObjSurveyQuestionPoolGUI\\\bsl importFileObject};
\node[fn] (handleUpdate) at (2205,2954) {ilRemoteObjectBase\\\bsl handleUpdate};
\node[fn] (ogImportFile) at (2205,3742) {ilObjectGUI\bsl importFileObject};
\node[fn] (delPartsLinked) at (2205,3808) {ilCourseMembershipGUI\\\bsl deleteParticipantsWithLinked\\Courses};
\node[fn] (editMember) at (2205,3873) {ilMembershipGUI\bsl editMember};
\node[fn] (printMembersOut) at (2205,3936) {ilMembershipGUI\bsl printMembers\\Output};
\node[fn] (printForMembers) at (2205,4002) {ilMembershipGUI\bsl printFor\\MembersOutput};
\node[fn] (mgPrintMembers) at (2205,4064) {ilMembershipGUI\bsl printMembers};
\node[fn] (lsPrintMembers) at (2205,4123) {ilLearningSequenceMembership\\GUI\bsl printMembers};
\node[fn] (etaExecute) at (2205,5321) {ilEmployeeTalkAppointment\\GUI\bsl executeCommand};
\node[fn] (ouConfirmedDelete) at (2205,5502) {ilObjOrgUnitGUI\bsl confirmed\\DeleteObject};
\node[fn] (ouPerformPaste) at (2205,5788) {ilObjOrgUnitGUI\bsl performPaste};

% Colonna 9
\node[fn] (harvesterRun) at (2477,2050) {ilOerHarvester\bsl run};
\node[fn] (saveCustom) at (2477,2239) {ilObjLTIConsumerGUI\\\bsl saveCustom};
\node[fn] (fblmImport) at (2477,2589) {ilObjFileBasedLMGUI\\\bsl importFileObject};
\node[fn] (saveAndAssign) at (2477,2831) {ilObjSessionGUI\bsl saveAndAssign\\MaterialsObject};
\node[fn] (handleCreate) at (2477,2954) {ilRemoteObjectBase\\\bsl handleCreate};
\node[fn] (lsExecute) at (2477,4702) {ilObjLearningSequenceGUI\\\bsl executeCommand};
\node[fn] (ouExecute) at (2477,4941) {ilObjOrgUnitGUI\bsl executeCommand};

\begin{pgfonlayer}{background}
\fill[white] (0,0) rectangle (2596,7947);

% Archi verso la radice
\draw[rootup] (fetchPred) to (buildJoin);
\draw[rootup] (fetchSucc) to (buildJoin);
\draw[rootup] (scormChilds) to (buildJoin);
\draw[rootup] (childsByType) to (buildJoin);
\draw[rootup] (childSeqNr) to (buildJoin);
\draw[tip] (pathFull) -- (buildJoin);
\draw[rootdown] (getChilds) to (buildJoin);
\draw[rootdown] (nodeData) to (buildJoin);
\draw[rootdown] (childsByTypeFilter) to (buildJoin);
\draw[rootdown] (savedNodeData) to (buildJoin);
\draw[rootdown] (savedNodeObjIds) to (buildJoin);

% Colonna 2 -> colonna 1
\draw[call] (hasSucc) to (fetchSucc);
\draw[call] (soPutInTree) to (childsByType);
\draw[call] (eiItemsOfCont) to (childsByType);
\draw[call] (lookupNext) to (childsByType);
\draw[call] (lookupLast) to (childsByType);
\draw[call] (igItemsOfCont) to (getChilds);
\draw[call] (soPresTitle) to (childSeqNr);
\draw[call] (checkPrecond) to (pathFull);
\draw[call] (ssBuildPath) to (pathFull);
\draw[call] (missPrecondPage) to (pathFull);
\draw[call] (missPrecondTop) to (pathFull);
\draw[call] (defVisibility) to (pathFull);
\draw[call] (skillTreePath) to (pathFull);
\draw[call] (taxAdminPath) to (pathFull);
\draw[call] (checkParentType) to (pathFull);
\draw[call] (taxForRefId) to (pathFull);
\draw[call] (mpLocatorItems) to (pathFull);
\draw[call] (contBuildPath) to (pathFull);
\draw[call] (locRepItems) to (pathFull);
\draw[call] (locAdminItems) to (pathFull);
\draw[call] (locContextItems) to (pathFull);
\draw[call] (ttPathNodes) to (pathFull);
\draw[call] (feedContextPath) to (pathFull);
\draw[call] (cloneNodes) to (pathFull);
\draw[call] (cancelEvalAccess) to (pathFull);
\draw[call] (evaluation) to (pathFull);
\draw[call] (selTaxonomies) to (pathFull);
\draw[call] (rcGetItems) to (pathFull);
\draw[call] (trashBuildPath) to (pathFull);
\draw[call] (outPageSel) to (getChilds);
\draw[call] (coursesOfUser) to (getChilds);
\draw[call] (subTreeFiltered) to (getChilds);
\draw[call] (wsGotItems) to (getChilds);
\draw[call] (linkListObj) to (getChilds);
\draw[call] (collectDelDeps) to (getChilds);
\draw[call] (writeSubitems) to (getChilds);
\draw[call] (saveChildsOrder) to (getChilds);
\draw[call] (filteredChilds) to (getChilds);
\draw[call] (exportIdsOverview) to (getChilds);
\draw[call] (adminSubItems) to (getChilds);
\draw[call] (deleteRec) to (getChilds);
\draw[call] (wfTableItems) to (getChilds);
\draw[call] (wcGetItems) to (getChilds);
\draw[call] (maxOrderNr) to (getChilds);
\draw[call] (subTreeTags) to (getChilds);
\draw[call] (initialSubitems) to (getChilds);
\draw[call] (aggChildNews) to (getChilds);
\draw[call] (taxTreeComp) to (getChilds);
\draw[call] (completeTree) to (nodeData);
\draw[call] (fixTree) to (nodeData);
\draw[call] (checkStructure) to (nodeData);
\draw[call] (createInfoMsg) to (nodeData);
\draw[call] (assignableTests) to (nodeData);
\draw[call] (removeFromSystem) to (nodeData);
\draw[call] (ppTableItems) to (nodeData);
\draw[call] (aggNewsData) to (nodeData);
\draw[call] (cocConfirmedDelete) to (nodeData);
\draw[call] (exportCSV) to (nodeData);
\draw[call] (chapterList) to (nodeData);
\draw[call] (initBlogForm) to (nodeData);
\draw[call] (orderedTreeIdx) to (nodeData);
\draw[call] (initCreatePft) to (nodeData);
\draw[call] (gatherEvents) to (nodeData);
\draw[call] (badgeItems) to (nodeData);
\draw[call] (scormTrackItems) to (nodeData);
\draw[call] (favouritesOfUser) to (nodeData);
\draw[call] (insertItemAfter) to (nodeData);
\draw[call] (filteredSubTree) to (nodeData);
\draw[call] (insertItemBefore) to (nodeData);
\draw[call] (taxDoDelete) to (nodeData);
\draw[call] (dataFromDb) to (nodeData);
\draw[call] (initEditForm) to (nodeData);
\draw[call] (cascadingDelete) to (nodeData);
\draw[call] (objectsFromType) to (childsByTypeFilter);
\draw[call] (formatHeader) to (nodeData);
\draw[call] (deleteObjType) to (nodeData);
\draw[call] (rsiRender) to (nodeData);
\draw[call] (pseConstruct) to (nodeData);
\draw[call] (childsOfNode) to (nodeData);
\draw[call] (validWsCert) to (nodeData);
\draw[call] (treeComponent) to (nodeData);
\draw[call] (deleteObjects) to (nodeData);
\draw[call] (deleteObjects) to (savedNodeData);
\draw[call] (assignableMat) to (nodeData);
\draw[call] (restoreSubTrees) to (savedNodeData);
\draw[call] (selBlogObject) to (nodeData);
\draw[call] (calcRecursive) to (nodeData);
\draw[call] (recurseFolder) to (nodeData);
\draw[call] (showTrashTable) to (nodeData);

% Colonna 3 -> colonna 2
\draw[call] (showPage) to (hasSucc);
\draw[call] (sogSave) to (soPutInTree);
\draw[call] (redrawList) to (eiItemsOfCont);
\draw[call] (timingsItems) to (eiItemsOfCont);
\draw[call] (initRenderer) to (eiItemsOfCont);
\draw[call] (isNodeVisible) to (eiItemsOfCont);
\draw[call] (reIsVisible) to (eiItemsOfCont);
\draw[call] (imInit) to (lookupNext);
\draw[call] (imInit) to (lookupLast);
\draw[call] (reIsVisible) to (igItemsOfCont);
\draw[call] (subchap) to (soPresTitle);
\draw[call] (lmpoPresTitle) to (soPresTitle);
\draw[call] (ilLocator) to (soPresTitle);
\draw[call] (determineStatus) to (checkPrecond);
\draw[call] (ssImportData) to (ssBuildPath);
\draw[call] (renderPrecond) to (missPrecondPage);
\draw[call] (renderPrecond) to (missPrecondTop);
\draw[call] (nfcInitSettings) to (defVisibility);
\draw[call] (getEditForm) to (defVisibility);
\draw[call] (addToSettings) to (defVisibility);
\draw[call] (createProps) to (defVisibility);
\draw[call] (forumCreateSettings) to (defVisibility);
\draw[call] (skillPathString) to (skillTreePath);
\draw[call] (repoTaxonomies) to (taxAdminPath);
\draw[call] (forwardTimings) to (checkParentType);
\draw[call] (grpViewMode) to (checkParentType);
\draw[call] (grpTranslateVM) to (checkParentType);
\draw[call] (blogSubTabs) to (checkParentType);
\draw[call] (ratingEnabled) to (checkParentType);
\draw[call] (epRead) to (checkParentType);
\draw[call] (sessModifyItem) to (checkParentType);
\draw[call] (inheritedSettings) to (checkParentType);
\draw[call] (spAutoComplete) to (checkParentType);
\draw[call] (notifTargets) to (checkParentType);
\draw[call] (objIsVisible) to (checkParentType);
\draw[call] (rptInitFilter) to (checkParentType);
\draw[call] (lpGetMembers) to (checkParentType);
\draw[call] (addContainerInfo) to (checkParentType);
\draw[call] (repoAutoComplete) to (checkParentType);
\draw[call] (folderViewMode) to (checkParentType);
\draw[call] (sessInitContainer) to (checkParentType);
\draw[call] (folderModifyItem) to (checkParentType);
\draw[call] (parentGroupCourse) to (checkParentType);
\draw[call] (nodeOrderingPath) to (ttPathNodes);
\draw[call] (objFeedConstruct) to (feedContextPath);
\draw[call] (userFeedConstruct) to (feedContextPath);
\draw[call] (checkEvalAccess) to (cancelEvalAccess);
\draw[call] (checkEvalAccess) to (evaluation);
\draw[call] (evalDetails) to (evaluation);
\draw[call] (taxAddSubTab) to (selTaxonomies);
\draw[call] (mdConstruct) to (selTaxonomies);
\draw[call] (addToMDForm) to (selTaxonomies);
\draw[call] (rcConstruct) to (rcGetItems);
\draw[call] (multiRefs) to (trashBuildPath);
\draw[call] (linkChilds) to (outPageSel);
\draw[call] (renderMyCourses) to (coursesOfUser);
\draw[call] (filterContainer) to (subTreeFiltered);
\draw[call] (subItemIds) to (subTreeFiltered);
\draw[call] (xmlWrite) to (writeSubitems);
\draw[call] (itemsFromClip) to (saveChildsOrder);
\draw[call] (saveExportIds) to (exportIdsOverview);
\draw[call] (soDelete) to (deleteRec);
\draw[call] (wfTableConstruct) to (wfTableItems);
\draw[call] (wcRender) to (wcGetItems);
\draw[call] (tcRender) to (subTreeTags);
\draw[call] (tcImportPost) to (subTreeTags);
\draw[call] (contSubItems) to (initialSubitems);
\draw[call] (newsForRefId) to (aggChildNews);
\draw[call] (newsForRefId) to (aggNewsData);
\draw[call] (finalTestAssign) to (assignableTests);
\draw[call] (selfAssessAssign) to (assignableTests);
\draw[call] (migrationStep) to (removeFromSystem);
\draw[call] (etConfirmedDelete) to (removeFromSystem);
\draw[call] (trashRemoveFromSys) to (removeFromSystem);
\draw[call] (lmoConfirmedDelete) to (cocConfirmedDelete);
\draw[call] (exportIdConstruct) to (chapterList);
\draw[call] (helpGetChapters) to (chapterList);
\draw[call] (saveBlog) to (initBlogForm);
\draw[call] (createPft) to (initCreatePft);
\draw[call] (sotConstruct) to (gatherEvents);
\draw[call] (badgeConstruct) to (badgeItems);
\draw[call] (scormGetTrack) to (scormTrackItems);
\draw[call] (possibleItems) to (scormTrackItems);
\draw[tip] ([yshift=-0.05cm]newItemAfter.west) -- ([yshift=-0.05cm]insertItemAfter.east);
\draw[tip] ([yshift=0.05cm]insertItemAfter.east) -- ([yshift=0.05cm]newItemAfter.west);
\draw[tip] ([yshift=-0.05cm]newItemBefore.west) -- ([yshift=-0.05cm]insertItemBefore.east);
\draw[tip] ([yshift=0.05cm]insertItemBefore.east) -- ([yshift=0.05cm]newItemBefore.west);
\draw[call] (typesAvailable) to (dataFromDb);
\draw[call] (createFileItem) to (initEditForm);
\draw[call] (editProperties) to (initEditForm);
\draw[call] (saveProperties) to (initEditForm);
\draw[call] (selectFile) to (initEditForm);
\draw[call] (rsiInsert) to (rsiRender);
\draw[call] (rsiFilterHTML) to (rsiRender);
\draw[call] (pcvInitForm) to (validWsCert);
\draw[call] (treeExpRender) to (treeComponent);
\draw[call] (confirmDelFile) to (deleteObjects);
\draw[call] (sptConfirmedDelete) to (deleteObjects);
\draw[call] (trashDeleteObjs) to (deleteObjects);
\draw[call] (materialAssign) to (assignableMat);
\draw[call] (restoreUnbound) to (restoreSubTrees);
\draw[call] (checkSumRun) to (calcRecursive);
\draw[call] (collectRun) to (recurseFolder);

% Colonna 4
\draw[call] (rawContent) to (showPage);
\draw[call] (pogPresentation) to (showPage);
\draw[call] (imprintPreview) to (showPage);
\draw[call] (pogPreview) to (showPage);
\draw[call] (imprintFullscreen) to (showPage);
\draw[call] (sendPage) to (showPage);
\draw[call] (compareVersion) to (showPage);
\draw[call] (pogEdit) to (showPage);
\draw[call] (pogGetHTML) to (showPage);
\draw[call] (addCustomEvents) to (timingsItems);
\draw[call] (prepareAppts) to (timingsItems);
\draw[call] (btRenderList) to (initRenderer);
\draw[call] (singleTypeBlock) to (initRenderer);
\draw[call] (scRenderList) to (initRenderer);
\draw[call] (imConstruct) to (imInit);
\draw[call] (tocNodeContent) to (lmpoPresTitle);
\draw[call] (tocNodeContent) to (soPresTitle);
\draw[call] (addDropdown) to (lmpoPresTitle);
\draw[call] (addDropdown) to (soPresTitle);
\draw[call] (addLocations) to (lmpoPresTitle);
\draw[call] (lmpogExecute) to (lmpoPresTitle);
\draw[call] (getPageTitle) to (lmpoPresTitle);
\draw[call] (listDefinitions) to (lmpoPresTitle);
\draw[call] (nodePresTitle) to (lmpoPresTitle);
\draw[call] (nodePresTitle) to (soPresTitle);
\draw[call] (showPrintView) to (soPresTitle);
\draw[call] (showPrintView) to (lmpoPresTitle);
\draw[call] (showPrintView) to (checkPrecond);
\draw[call] (printViewSel) to (lmpoPresTitle);
\draw[call] (printViewSel) to (checkPrecond);
\draw[call] (initScreenHead) to (ilLocator);
\draw[call] (lmpLayout) to (ilLocator);
\draw[call] (lmcrRender) to (determineStatus);
\draw[call] (lmcrRender) to (renderPrecond);
\draw[call] (lmcrRender) to (lmpoPresTitle);
\draw[call] (ssConstruct) to (ssImportData);
\draw[call] (nfcSaveSettings) to (nfcInitSettings);
\draw[call] (nfcEditSettings) to (nfcInitSettings);
\draw[call] (editModal) to (getEditForm);
\draw[call] (cnsInitForm) to (addToSettings);
\draw[call] (fileDoCreate) to (createProps);
\draw[call] (forumCreate) to (forumCreateSettings);
\draw[call] (blogCustomForm) to (blogSubTabs);
\draw[call] (blogExecute) to (blogSubTabs);
\draw[call] (hasAutoRating) to (ratingEnabled);
\draw[call] (epConstruct) to (epRead);
\draw[call] (joinRequestBtn) to (sessModifyItem);
\draw[call] (loadEffSettings) to (inheritedSettings);
\draw[call] (spmInitSearch) to (spAutoComplete);
\draw[call] (tutorNotif) to (notifTargets);
\draw[call] (checkReminder) to (notifTargets);
\draw[call] (rptConstruct) to (rptInitFilter);
\draw[call] (addCommonSection) to (addContainerInfo);
\draw[call] (apSessionProps) to (addContainerInfo);
\draw[call] (userAssignObj) to (repoAutoComplete);
\draw[call] (iamView) to (repoAutoComplete);
\draw[call] (blogContributors) to (repoAutoComplete);
\draw[call] (detachModerator) to (repoAutoComplete);
\draw[call] (userSearchCtrls) to (repoAutoComplete);
\draw[call] (ouIndex) to (repoAutoComplete);
\draw[call] (appraiseesObj) to (repoAutoComplete);
\draw[call] (membersObj) to (repoAutoComplete);
\draw[call] (bpRender) to (repoAutoComplete);
\draw[call] (partToolbar) to (repoAutoComplete);
\draw[call] (lsPartToolbar) to (repoAutoComplete);
\draw[call] (showUsers) to (repoAutoComplete);
\draw[call] (teamScreen) to (repoAutoComplete);
\draw[call] (sessContRefId) to (sessInitContainer);
\draw[call] (sessInitAttend) to (sessInitContainer);
\draw[call] (sessEventsList) to (sessInitContainer);
\draw[call] (selUserCols) to (parentGroupCourse);
\draw[call] (openEvaluation) to (evalDetails);
\draw[call] (taxInitForm) to (addToMDForm);
\draw[call] (updateFromMD) to (selTaxonomies);
\draw[call] (showDelConfirm) to (collectDelDeps);
\draw[call] (pendingInSeries) to (contSubItems);
\draw[call] (newsForContext) to (newsForRefId);
\draw[call] (updSelfLimits) to (finalTestAssign);
\draw[call] (updFinalTest) to (finalTestAssign);
\draw[call] (updMaterial) to (finalTestAssign);
\draw[call] (updSelfAssess) to (finalTestAssign);
\draw[call] (updMaterial) to (selfAssessAssign);
\draw[call] (updSelfAssess) to (selfAssessAssign);
\draw[call] (helpConstruct) to (helpGetChapters);
\draw[call] (createPftProcess) to (initCreatePft);
\draw[tip] ([yshift=-0.05cm]createPftProcess.west) -- ([yshift=-0.05cm]createPft.east);
\draw[tip] ([yshift=0.05cm]createPft.east) -- ([yshift=0.05cm]createPftProcess.west);
\draw[call] (tableGUIData) to (possibleItems);
\draw[call] (smInitFilter) to (typesAvailable);
\draw[call] (insertFileItem) to (createFileItem);
\draw[call] (pcflInsert) to (selectFile);
\draw[call] (pcflInsert) to (initEditForm);
\draw[call] (pcvInsert) to (pcvInitForm);
\draw[call] (pcvEdit) to (pcvInitForm);
\draw[call] (treeExpHTML) to (treeExpRender);
\draw[call] (performCommand) to (confirmDelFile);
\draw[call] (validate) to (restoreUnbound);

% Colonna 5
\draw[call] (previewHistory) to (pogPreview);
\draw[call] (previewEmbedded) to (pogPreview);
\draw[call] (previewFullscreen) to (pogPreview);
\draw[call] (imprintExecute) to (imprintFullscreen);
\draw[call] (pogExecute) to (pogEdit);
\draw[call] (insertJS) to (pogEdit);
\draw[call] (courseCreate) to (prepareAppts);
\draw[call] (courseDelete) to (prepareAppts);
\draw[call] (courseUpdate) to (prepareAppts);
\draw[call] (navRender) to (addDropdown);
\draw[call] (checkCtrlPath) to (addLocations);
\draw[call] (lmpogEdit) to (lmpogExecute);
\draw[call] (lmpogPreview) to (lmpogExecute);
\draw[call] (lmnConstruct) to (getPageTitle);
\draw[call] (glossExecute) to (listDefinitions);
\draw[call] (glossPrintView) to (listDefinitions);
\draw[call] (pubNodeContent) to (nodePresTitle);
\draw[call] (lmeNodeContent) to (nodePresTitle);
\draw[call] (outputInfoScreen) to (initScreenHead);
\draw[call] (lmpResume) to (lmpLayout);
\draw[call] (changeFeed) to (nfcEditSettings);
\draw[call] (ntGetHTML) to (editModal);
\draw[call] (cnsShow) to (cnsInitForm);
\draw[call] (cnsSave) to (cnsInitForm);
\draw[call] (handleAutoRating) to (hasAutoRating);
\draw[call] (joinBtnCalendar) to (joinRequestBtn);
\draw[call] (sortingRead) to (loadEffSettings);
\draw[call] (spmView) to (spmInitSearch);
\draw[call] (finishSurvey) to (tutorNotif);
\draw[call] (apExerciseProps) to (addCommonSection);
\draw[call] (apCourseProps) to (addCommonSection);
\draw[call] (apConsultProps) to (addCommonSection);
\draw[call] (apGroupProps) to (addCommonSection);
\draw[call] (iamAddedUsers) to (iamView);
\draw[call] (addContributor) to (blogContributors);
\draw[call] (removeContributor) to (blogContributors);
\draw[call] (toolbarControls) to (userSearchCtrls);
\draw[call] (maintenanceObj) to (appraiseesObj);
\draw[call] (deadlineObj) to (membersObj);
\draw[call] (waitingDownload) to (membersObj);
\draw[call] (exAddUser) to (membersObj);
\draw[call] (membersApply) to (membersObj);
\draw[call] (membersReset) to (membersObj);
\draw[call] (bpAddUser) to (bpRender);
\draw[call] (applyFilterAction) to (bpRender);
\draw[call] (mgParticipants) to (partToolbar);
\draw[call] (teamAddUser) to (teamScreen);
\draw[call] (materialsObj) to (sessContRefId);
\draw[call] (printAttendObj) to (sessInitAttend);
\draw[call] (attendListObj) to (sessInitAttend);
\draw[call] (brFillRow) to (selUserCols);
\draw[call] (selColumns) to (selUserCols);
\draw[call] (selectedUserCols) to (selUserCols);
\draw[call] (taxShow) to (taxInitForm);
\draw[call] (taxExecute) to (taxInitForm);
\draw[call] (taxSave) to (taxInitForm);
\draw[call] (taxSave) to (updateFromMD);
\draw[call] (pendingDates) to (pendingInSeries);
\draw[call] (editNews) to (newsForContext);
\draw[call] (smConstruct) to (smInitFilter);
\draw[tip] ([yshift=-0.05cm]newFileItem.west) -- ([yshift=-0.05cm]insertFileItem.east);
\draw[tip] ([yshift=0.05cm]insertFileItem.east) -- ([yshift=0.05cm]newFileItem.west);
\draw[call] (newFileItem) to (initEditForm);
\draw[call] (pcflCreate) to (pcflInsert);
\draw[call] (pcflCreate) to (initEditForm);
\draw[call] (pcvCreate) to (pcvInsert);
\draw[call] (pcvCreate) to (pcvInitForm);
\draw[call] (pcvUpdate) to (pcvEdit);
\draw[call] (pcvUpdate) to (pcvInitForm);
\draw[call] (pcvUpdate) to (validWsCert);
\draw[call] (fvExecute) to (performCommand);

% Colonna 6
\draw[call] (bpExecute) to (previewFullscreen);
\draw[call] (renderBottom) to (navRender);
\draw[call] (renderTop) to (navRender);
\draw[call] (infoScreen) to (outputInfoScreen);
\draw[call] (showInfoScreen) to (outputInfoScreen);
\draw[call] (lmpExecute) to (outputInfoScreen);
\draw[call] (lmpExecute) to (initScreenHead);
\draw[call] (lmpExecute) to (lmpLayout);
\draw[call] (ntShow) to (ntGetHTML);
\draw[call] (putInTree) to (handleAutoRating);
\draw[call] (sortingConstruct) to (sortingRead);
\draw[call] (addUserFromAC) to (addContributor);
\draw[call] (addUserFromAC) to (blogContributors);
\draw[call] (showCmd) to (toolbarControls);
\draw[call] (applyPartFilter) to (applyFilterAction);
\draw[call] (resetPartFilter) to (applyFilterAction);
\draw[call] (partApplyFilter) to (mgParticipants);
\draw[call] (partResetFilter) to (mgParticipants);
\draw[call] (getMembersObj) to (mgParticipants);
\draw[call] (addExportCols) to (selColumns);
\draw[call] (addExportCols) to (selUserCols);
\draw[call] (brGetItems) to (selectedUserCols);
\draw[call] (pasteMultiple) to (cloneNodes);
\draw[call] (editSeries) to (pendingDates);
\draw[call] (updateSeries) to (pendingInSeries);
\draw[call] (cancelUpdate) to (editNews);
\draw[call] (cancelUpdateNews) to (editNews);
\draw[call] (confirmDelNews) to (editNews);
\draw[call] (deleteNews) to (editNews);
\draw[call] (cancelSaveNews) to (editNews);
\draw[call] (pasteObject) to (nodeData);

% Colonna 7
\draw[call] (ntUpdate) to (ntShow);
\draw[call] (ntSave) to (ntShow);
\draw[call] (ntUpdate) to (getEditForm);
\draw[call] (ntSave) to (getEditForm);
\draw[call] (harvestObject) to (putInTree);
\draw[call] (addReferences) to (putInTree);
\draw[call] (davObject) to (putInTree);
\draw[call] (o2PutInTree) to (putInTree);
\draw[call] (ogPutInTree) to (putInTree);
\draw[call] (ecsContent) to (putInTree);
\draw[call] (resetFilterCmd) to (showCmd);
\draw[call] (setFilterCmd) to (showCmd);
\draw[call] (refuseSubs) to (getMembersObj);
\draw[call] (updateParts) to (getMembersObj);
\draw[call] (grpUpdStatus) to (getMembersObj);
\draw[call] (crsUpdStatus) to (getMembersObj);
\draw[call] (assignWaiting) to (getMembersObj);
\draw[call] (grpAssign) to (getMembersObj);
\draw[call] (crsAssign) to (getMembersObj);
\draw[call] (assignSubs) to (getMembersObj);
\draw[call] (confirmDelParts) to (getMembersObj);
\draw[call] (sessDelParts) to (getMembersObj);
\draw[call] (mgExecute) to (getMembersObj);
\draw[call] (attendUserData) to (getMembersObj);
\draw[call] (printMemberData) to (getMembersObj);
\draw[call] (mgDelParts) to (getMembersObj);
\draw[call] (mgEditParts) to (getMembersObj);
\draw[call] (refuseFromList) to (getMembersObj);
\draw[call] (mgInitAttend) to (getMembersObj);
\draw[call] (parseSubsTable) to (getMembersObj);
\draw[call] (fillHeaderCSV) to (addExportCols);
\draw[call] (fillHeaderExcel) to (addExportCols);
\draw[call] (fillRowCSV) to (addExportCols);
\draw[call] (fillRowExcel) to (addExportCols);
\draw[call] (brConstruct) to (addExportCols);
\draw[call] (brConstruct) to (brGetItems);
\draw[call] (seriesCommand) to (editSeries);
\draw[call] (seriesCommand) to (updateSeries);

% Colonna 8
\draw[call] (updateNewsItem) to (ntUpdate);
\draw[call] (updateNewsItem) to (ntSave);
\draw[call] (harvest) to (harvestObject);
\draw[call] (xmlTree) to (addReferences);
\draw[call] (cmiSave) to (o2PutInTree);
\draw[call] (ltiCreateNew) to (o2PutInTree);
\draw[call] (crsVerSave) to (o2PutInTree);
\draw[call] (tstVerSave) to (o2PutInTree);
\draw[call] (excVerSave) to (o2PutInTree);
\draw[call] (scormVerSave) to (o2PutInTree);
\draw[call] (ltiVerSave) to (o2PutInTree);
\draw[call] (fromDirectory) to (ogPutInTree);
\draw[call] (importSurvey) to (ogPutInTree);
\draw[call] (etsSaveObject) to (ogPutInTree);
\draw[call] (glossSaveObject) to (ogPutInTree);
\draw[call] (ogSaveObject) to (ogPutInTree);
\draw[call] (sqpImport) to (ogPutInTree);
\draw[call] (ogImportFile) to (ogPutInTree);
\draw[call] (handleUpdate) to (ecsContent);
\draw[call] (delPartsLinked) to (mgDelParts);
\draw[call] (delPartsLinked) to (getMembersObj);
\draw[call] (editMember) to (mgEditParts);
\draw[call] (printMembersOut) to (getMembersObj);
\draw[call] (printForMembers) to (mgInitAttend);
\draw[call] (mgPrintMembers) to (mgInitAttend);
\draw[call] (lsPrintMembers) to (mgInitAttend);
\draw[call] (etaExecute) to (seriesCommand);
\draw[call] (ouConfirmedDelete) to (removeFromSystem);
\draw[call] (ouPerformPaste) to (pasteObject);

% Colonna 9
\draw[call] (harvesterRun) to (harvest);
\draw[call] (saveCustom) to (ltiCreateNew);
\draw[call] (fblmImport) to (fromDirectory);
\draw[call] (saveAndAssign) to (ogSaveObject);
\draw[call] (handleCreate) to (handleUpdate);
\draw[call] (lsExecute) to (pasteMultiple);
\draw[call] (lsExecute) to (ogImportFile);
\draw[call] (ouExecute) to (pasteMultiple);
\draw[call] (ouExecute) to (ouConfirmedDelete);
\draw[call] (ouExecute) to (ouPerformPaste);
\draw[call] (ouExecute) to (ogImportFile);
\end{pgfonlayer}
\end{tikzpicture}
\end{document}
